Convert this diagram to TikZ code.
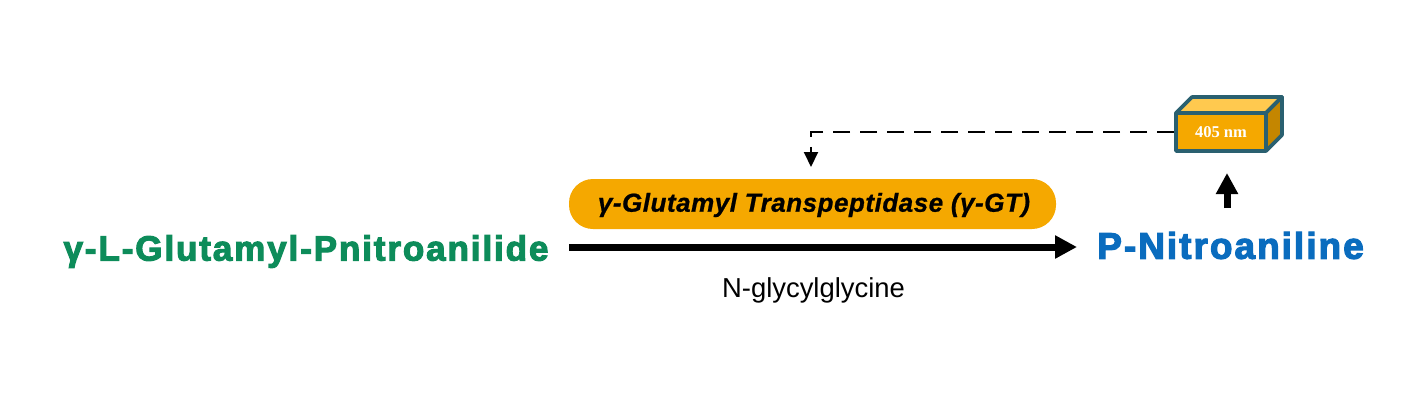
\documentclass[tikz,border=0pt]{standalone}
\usepackage{fontspec}
\setmainfont{Liberation Sans}
\newfontfamily\serifbf{Liberation Serif}[Ligatures=TeX]
\newfontfamily\chemfont{Liberation Sans Bold}[LetterSpace=5.4,FakeBold=3.2]
\newfontfamily\enzfont{Liberation Sans Bold Italic}[LetterSpace=2,FakeBold=0.8]
\usetikzlibrary{arrows.meta}
\definecolor{amberfill}{HTML}{F5A800}
\definecolor{amberlight}{HTML}{FFC94F}
\definecolor{amberdark}{HTML}{C48600}
\definecolor{boxedge}{HTML}{2A6070}
\definecolor{substrategreen}{HTML}{0D8C5A}
\definecolor{productblue}{HTML}{0A6CBE}
\tikzset{
  chemlabel/.style={inner sep=0pt,anchor=center},
  boxface/.style={draw=boxedge,line width=3.6pt,line join=round},
  mainarrow/.style={line width=7pt,-{Triangle[length=22pt,width=22pt]}},
  uparrow/.style={line width=7pt,-{Triangle[length=21pt,width=21pt]}},
  dasharrow/.style={line width=2pt,dash pattern=on 17pt off 10pt,-{Triangle[length=15pt,width=14pt]}}
}
\begin{document}
\begin{tikzpicture}[x=1pt,y=-1pt]
\useasboundingbox (0,0) rectangle (1409,405);
\node[chemlabel,text=substrategreen,font=\chemfont\fontsize{35}{40}\selectfont] (substrate) at (306,251.5) {γ-L-Glutamyl-Pnitroanilide};
\node[chemlabel,text=productblue,font=\chemfont\fontsize{37}{42}\selectfont] (product) at (1230.5,245.5) {P-Nitroaniline};
\node[fill=amberfill,rounded corners=24pt,minimum width=487pt,minimum height=50pt,inner sep=0pt] (enzyme) at (812.5,204) {};
\node[inner sep=0pt,font=\enzfont\fontsize{26}{30}\selectfont] (enzymetext) at (814,205) {γ-Glutamyl Transpeptidase (γ-GT)};
\node[font=\fontsize{27.4}{30}\selectfont,inner sep=0pt] (cosub) at (813.5,290) {N-glycylglycine};
% cuboid
\fill[amberlight,boxface] (1176,113) -- (1192,97) -- (1282,97) -- (1266,113) -- cycle;
\fill[amberdark,boxface] (1266,113) -- (1282,97) -- (1282,135) -- (1266,151) -- cycle;
\node[boxface,fill=amberfill,minimum width=90pt,minimum height=38pt,inner sep=0pt,text=white,
  font=\serifbf\bfseries\fontsize{16.5}{20}\selectfont] (cuboid) at (1221,132) {405 nm};
% connectors
\coordinate (mainstart) at (569,247);
\coordinate (mainend) at (1077,247);
\draw[mainarrow] (mainstart) -- (mainend);
\coordinate (upstart) at (1227,208);
\coordinate (upend) at (1227,173);
\draw[uparrow] (upstart) -- (upend);
\coordinate (dashend) at (811,167);
\draw[dasharrow] (cuboid.west) -- (dashend |- cuboid.west) -- (dashend);
\end{tikzpicture}
\end{document}
